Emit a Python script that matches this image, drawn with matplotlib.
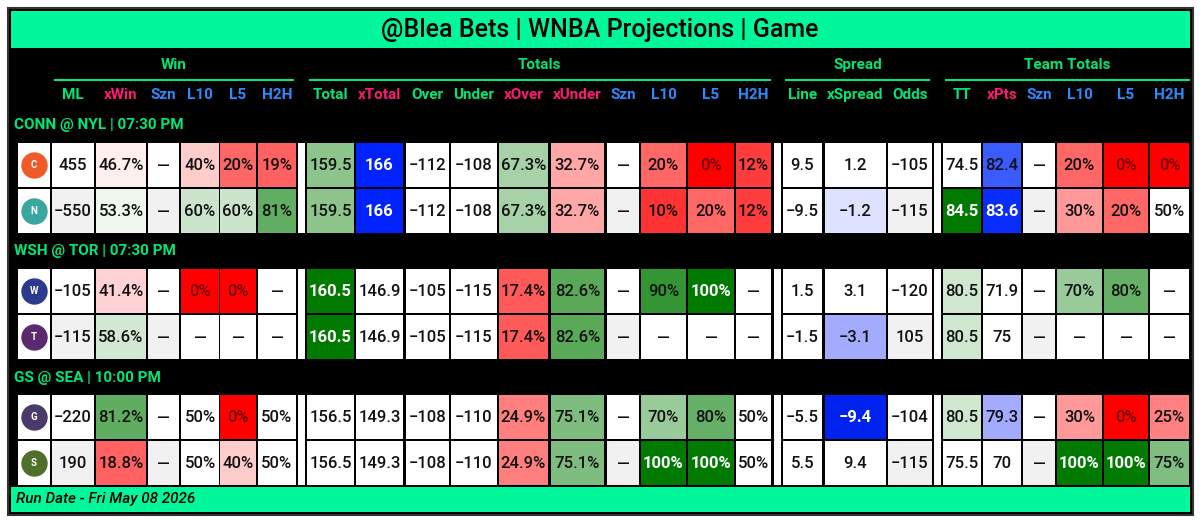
import matplotlib
matplotlib.use("Agg")
import matplotlib.pyplot as plt
from matplotlib.patches import Rectangle
import numpy as np

plt.rcParams['font.family'] = ['Roboto', 'DejaVu Sans']

title = "@Blea Bets | WNBA Projections | Game"
footer = "Run Date - Fri May 08 2026"
games = ["CONN @ NYL | 07:30 PM", "WSH @ TOR | 07:30 PM", "GS @ SEA | 10:00 PM"]
teams = ["CONN", "NYL", "WSH", "TOR", "GS", "SEA"]
logo_colors = ["#f05a28", "#3aa6a0", "#2b3a8c", "#5b2a6e", "#4a3a6a", "#4f6f2a"]

groups = ["Win", "Totals", "Spread", "Team Totals"]
columns = ["ML", "xWin", "Szn", "L10", "L5", "H2H",
           "Total", "xTotal", "Over", "Under", "xOver", "xUnder", "Szn", "L10", "L5", "H2H",
           "Line", "xSpread", "Odds",
           "TT", "xPts", "Szn", "L10", "L5", "H2H"]
header_kind = ["g", "p", "b", "b", "b", "b",
               "g", "p", "g", "g", "p", "p", "b", "b", "b", "b",
               "g", "g", "g",
               "g", "p", "b", "b", "b", "b"]

D = "\u2014"
rows = [
    ["455", "46.7%", D, "40%", "20%", "19%", "159.5", "166", "\u2212112", "\u2212108", "67.3%", "32.7%", D, "20%", "0%", "12%", "9.5", "1.2", "\u2212105", "74.5", "82.4", D, "20%", "0%", "0%"],
    ["\u2212550", "53.3%", D, "60%", "60%", "81%", "159.5", "166", "\u2212112", "\u2212108", "67.3%", "32.7%", D, "10%", "20%", "12%", "\u22129.5", "\u22121.2", "\u2212115", "84.5", "83.6", D, "30%", "20%", "50%"],
    ["\u2212105", "41.4%", D, "0%", "0%", D, "160.5", "146.9", "\u2212105", "\u2212115", "17.4%", "82.6%", D, "90%", "100%", D, "1.5", "3.1", "\u2212120", "80.5", "71.9", D, "70%", "80%", D],
    ["\u2212115", "58.6%", D, D, D, D, "160.5", "146.9", "\u2212105", "\u2212115", "17.4%", "82.6%", D, D, D, D, "\u22121.5", "\u22123.1", "105", "80.5", "75", D, D, D, D],
    ["\u2212220", "81.2%", D, "50%", "0%", "50%", "156.5", "149.3", "\u2212108", "\u2212110", "24.9%", "75.1%", D, "70%", "80%", "50%", "\u22125.5", "\u22129.4", "\u2212104", "80.5", "79.3", D, "30%", "0%", "25%"],
    ["190", "18.8%", D, "50%", "40%", "50%", "156.5", "149.3", "\u2212108", "\u2212110", "24.9%", "75.1%", D, "100%", "100%", "50%", "5.5", "9.4", "\u2212115", "75.5", "70", D, "100%", "100%", "75%"],
]
special = {
    (0, 6): "#8cc48c", (1, 6): "#8cc48c", (0, 7): "#0022ff", (1, 7): "#0022ff",
    (2, 6): "#007a00", (3, 6): "#007a00",
    (1, 17): "#dfe2ff", (3, 17): "#a3abff", (4, 17): "#0022ee",
    (1, 19): "#007a00", (0, 20): "#3a5cff", (1, 20): "#0a2dff",
    (2, 19): "#cfe6cf", (3, 19): "#cfe6cf", (4, 19): "#cfe6cf", (4, 20): "#a3abff",
}
gray_cols = [0, 2, 12, 18, 21]

col_edges = [(52, 94), (96, 146), (148, 179), (181, 219), (220, 256), (258, 296),
             (307, 354), (356, 403), (406, 449), (451, 497), (499, 548), (551, 604), (607, 639), (641, 686), (688, 734), (736, 771),
             (783, 822), (825, 886), (888, 932),
             (943, 981), (983, 1021), (1023, 1055), (1057, 1102), (1104, 1148), (1150, 1189)]
spacers = [(298, 305), (774, 781), (934, 941)]
group_span = [(55, 293), (310, 770), (786, 929), (946, 1189)]
row_tops = [143, 189, 269, 315, 395, 441]
row_h = 44
game_y = [125, 251, 378]

GREEN = "#00f79a"
GTXT = "#00e676"
PINK = "#ff1a75"
BLUE = "#2a8cff"
kind_col = {"g": GTXT, "p": PINK, "b": BLUE}

def pct_color(v):
    w = np.array([1.0, 1.0, 1.0])
    if v < 50:
        t = (50 - v) / 50
        c = np.array([1.0, 0.0, 0.0])
    else:
        t = (v - 50) / 50
        c = np.array([0.0, 0.48, 0.0])
    return tuple(w + (c - w) * t)

fig = plt.figure(figsize=(12, 5.23), dpi=100)
ax = fig.add_axes([0, 0, 1, 1])
ax.set_xlim(0, 1200)
ax.set_ylim(523, 0)
ax.axis("off")

ax.add_patch(Rectangle((8, 8), 1185, 507, facecolor="black", edgecolor="#333333", lw=1.5))
ax.add_patch(Rectangle((11, 11), 1179, 37, facecolor=GREEN, lw=0))
ax.text(600, 30, title, ha="center", va="center", fontsize=18, fontweight="medium", color="black")
ax.add_patch(Rectangle((11, 487), 1179, 25, facecolor=GREEN, lw=0))
ax.text(16, 499.5, footer, ha="left", va="center", fontsize=11, style="italic", fontweight="medium", color="black")

for g, (x0, x1) in zip(groups, group_span):
    ax.text((x0 + x1) / 2, 65, g, ha="center", va="center", fontsize=11, fontweight="bold", color=GTXT)
    ax.plot([x0, x1], [80, 80], color=GTXT, lw=1.5)
for name, k, (x0, x1) in zip(columns, header_kind, col_edges):
    ax.text((x0 + x1) / 2, 95, name, ha="center", va="center", fontsize=11, fontweight="bold", color=kind_col[k])
for gname, y in zip(games, game_y):
    ax.text(14, y, gname, ha="left", va="center", fontsize=11, fontweight="bold", color=GTXT)

for gi in range(3):
    top = row_tops[2 * gi]
    for (x0, x1) in spacers:
        ax.add_patch(Rectangle((x0, top), x1 - x0, 2 * row_h + 2, facecolor="white", lw=0))

for ri, (row, top) in enumerate(zip(rows, row_tops)):
    ax.add_patch(Rectangle((18, top), 32, row_h, facecolor="white", lw=0))
    ax.plot(34, top + row_h / 2, "o", ms=18, color=logo_colors[ri])
    ax.text(34, top + row_h / 2, teams[ri][0], ha="center", va="center", fontsize=7, color="white", fontweight="bold")
    for ci, (val, (x0, x1)) in enumerate(zip(row, col_edges)):
        if (ri, ci) in special:
            fc = special[(ri, ci)]
        elif val.endswith("%"):
            fc = pct_color(float(val[:-1]))
        elif ri % 2 == 1 and ci in gray_cols:
            fc = "#f1f1f1"
        else:
            fc = "white"
        rgb = matplotlib.colors.to_rgb(fc)
        lum = 0.299 * rgb[0] + 0.587 * rgb[1] + 0.114 * rgb[2]
        tc = "white" if lum < 0.33 else "#111111"
        if val == "0%":
            tc = "#6a0000"
        ax.add_patch(Rectangle((x0, top), x1 - x0, row_h, facecolor=fc, lw=0))
        ax.text((x0 + x1) / 2, top + row_h / 2 + 1, val, ha="center", va="center", fontsize=12,
                color=tc, fontweight="bold" if tc == "white" else "medium")

fig.savefig("out.png", dpi=100, facecolor="white")
